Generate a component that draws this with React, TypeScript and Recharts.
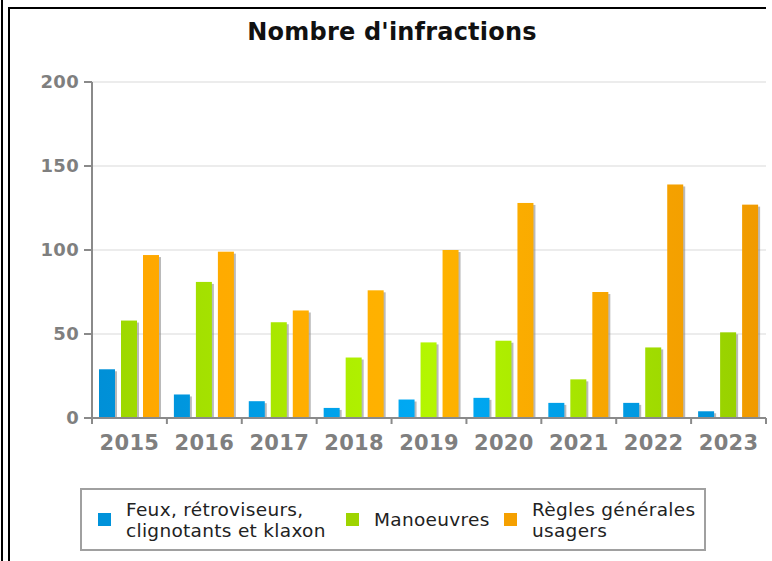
import React from "react";
import { BarChart, Bar, XAxis, YAxis, CartesianGrid } from "recharts";

const years = ["2015", "2016", "2017", "2018", "2019", "2020", "2021", "2022", "2023"];
const feux = [29, 14, 10, 6, 11, 12, 9, 9, 4];
const manoeuvres = [58, 81, 57, 36, 45, 46, 23, 42, 51];
const regles = [97, 99, 64, 76, 100, 128, 75, 139, 127];
const yTicks = [0, 50, 100, 150, 200];
const seriesNames = ["Feux, rétroviseurs,\nclignotants et klaxon", "Manoeuvres", "Règles générales\nusagers"];
const title = "Nombre d'infractions";

const data = years.map((y, i) => ({ year: y, feux: feux[i], manoeuvres: manoeuvres[i], regles: regles[i] }));

const W = 772;
const H = 561;
const MARGIN = { top: 82, right: 6, bottom: 113, left: 42 };
const YAXIS_W = 50;
const XAXIS_H = 30;
const PLOT_W = W - MARGIN.left - MARGIN.right - YAXIS_W;
const FONT = "'DejaVu Sans', sans-serif";
const AXIS_GRAY = "#8a8a8a";
const LABEL_GRAY = "#7f7f7f";

const legendColors = ["#0092da", "#9ed400", "#f5a000"];

const ShadowBar = (props: any) => {
  const { x, y, width, height, fill } = props;
  if (!height || height <= 0) return null;
  return (
    <g>
      <rect x={x + 2} y={y + 2} width={width} height={Math.max(0, height - 2)} fill="#8c8c8c" fillOpacity={0.6} />
      <rect x={x} y={y} width={width} height={height} fill={fill} />
    </g>
  );
};

const XTick = (props: any) => {
  const { x, y, payload, index } = props;
  const band = PLOT_W / years.length;
  const left = x - band / 2;
  const right = x + band / 2;
  return (
    <g>
      <line x1={left} x2={left} y1={y} y2={y + 6} stroke={AXIS_GRAY} strokeWidth={2} />
      {index === years.length - 1 && (
        <line x1={right} x2={right} y1={y} y2={y + 6} stroke={AXIS_GRAY} strokeWidth={2} />
      )}
      <text x={x} y={y + 32} textAnchor="middle" fill={LABEL_GRAY} fontSize={21} fontWeight="bold" fontFamily={FONT} letterSpacing={0.3}>
        {payload.value}
      </text>
    </g>
  );
};

export default function App() {
  return (
    <div style={{ position: "absolute", left: 0, top: 0, width: W, height: H, background: "#fff", fontFamily: FONT, overflow: "hidden" }}>
      <svg width={W} height={H} style={{ position: "absolute", left: 0, top: 0 }}>
        <line x1={2} x2={2} y1={0} y2={H} stroke="#000" strokeWidth={2} />
        <line x1={9} x2={9} y1={7} y2={H} stroke="#000" strokeWidth={2} />
        <line x1={8} x2={766} y1={8} y2={8} stroke="#000" strokeWidth={2} />
      </svg>
      <div style={{ position: "absolute", left: 0, width: 784, top: 16, textAlign: "center", fontSize: 24, fontWeight: "bold", color: "#111", lineHeight: "32px", letterSpacing: 0.2 }}>
        {title}
      </div>
      <div style={{ position: "absolute", left: 0, top: 0 }}>
        <BarChart width={W} height={H} data={data} margin={MARGIN} barSize={16} barGap={6}>
          <defs>
            <linearGradient id="gBlue" gradientUnits="userSpaceOnUse" x1={92} y1={0} x2={766} y2={0}>
              <stop offset="0" stopColor="#008fd6" />
              <stop offset="0.5" stopColor="#00aaf4" />
              <stop offset="1" stopColor="#008fd6" />
            </linearGradient>
            <linearGradient id="gGreen" gradientUnits="userSpaceOnUse" x1={92} y1={0} x2={766} y2={0}>
              <stop offset="0" stopColor="#9cd600" />
              <stop offset="0.5" stopColor="#b4f600" />
              <stop offset="1" stopColor="#96ce00" />
            </linearGradient>
            <linearGradient id="gOrange" gradientUnits="userSpaceOnUse" x1={92} y1={0} x2={766} y2={0}>
              <stop offset="0" stopColor="#ffa600" />
              <stop offset="0.5" stopColor="#ffb300" />
              <stop offset="1" stopColor="#f09a00" />
            </linearGradient>
          </defs>
          <CartesianGrid vertical={false} stroke="#e6e6e6" strokeWidth={1.5} />
          <XAxis
            dataKey="year"
            height={XAXIS_H}
            axisLine={{ stroke: AXIS_GRAY, strokeWidth: 2 }}
            tickLine={false}
            tickSize={0}
            tickMargin={0}
            tick={<XTick />}
            interval={0}
          />
          <YAxis
            width={YAXIS_W}
            domain={[0, 200]}
            ticks={yTicks}
            axisLine={{ stroke: AXIS_GRAY, strokeWidth: 2 }}
            tickLine={{ stroke: AXIS_GRAY, strokeWidth: 2 }}
            tickSize={8}
            tickMargin={5}
            tick={{ fill: LABEL_GRAY, fontSize: 18, fontWeight: "bold", fontFamily: FONT, letterSpacing: 0.3 }}
          />
          <Bar dataKey="feux" fill="url(#gBlue)" shape={<ShadowBar />} isAnimationActive={false} />
          <Bar dataKey="manoeuvres" fill="url(#gGreen)" shape={<ShadowBar />} isAnimationActive={false} />
          <Bar dataKey="regles" fill="url(#gOrange)" shape={<ShadowBar />} isAnimationActive={false} />
        </BarChart>
      </div>
      <div style={{ position: "absolute", left: 80, top: 488, width: 622, height: 59, border: "2px solid #a0a0a0", background: "#fff" }}>
        {seriesNames.map((name, i) => {
          const lefts = [16, 264, 422];
          return (
            <div key={i} style={{ position: "absolute", left: lefts[i], top: 0, height: 59, display: "flex", alignItems: "center" }}>
              <div style={{ width: 13, height: 13, background: legendColors[i], marginRight: 15 }} />
              <div style={{ fontSize: 18.5, lineHeight: "21px", color: "#222", whiteSpace: "pre", letterSpacing: 0.3 }}>{name}</div>
            </div>
          );
        })}
      </div>
    </div>
  );
}
